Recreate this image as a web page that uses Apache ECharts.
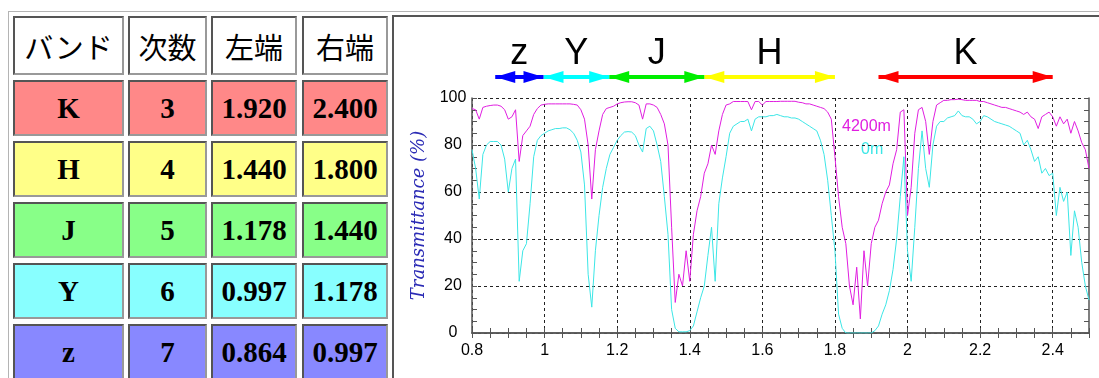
<!DOCTYPE html>
<html>
<head>
<meta charset="utf-8">
<script src="https://cdn.jsdelivr.net/npm/echarts@6/dist/echarts.min.js"></script>
<style>
  body { margin: 0; width: 1099px; height: 378px; overflow: hidden; background: #fff; position: relative; }
  #frame { position: absolute; left: 8px; top: 11px; width: 1100px; height: 380px; border-top: 1px solid #b4b4b4; border-left: 1px solid #b4b4b4; }
  .cell { position: absolute; box-sizing: border-box; border: 2px solid; border-color: #555 #999 #999 #555;
          display: flex; align-items: center; justify-content: center;
          font-family: 'Liberation Serif', serif; font-weight: bold; font-size: 29px; color: #000; }
  .head { font-family: 'Noto Sans CJK JP', sans-serif; font-weight: normal; font-size: 29px; background: #fff; }
  #plotFrame { position: absolute; left: 392px; top: 15px; width: 720px; height: 380px; border-top: 2px solid #555; border-left: 2px solid #555; }
  #chart { position: absolute; left: 395px; top: 18px; width: 704px; height: 360px; }
</style>
</head>
<body>
<div id="frame"></div>
<div id="table"></div>
<div id="plotFrame"></div>
<div id="chart"></div>
<script>
// table data
const headers = ['バンド', '次数', '左端', '右端'];
const bandNames = ['K', 'H', 'J', 'Y', 'z'];
const bandOrders = [3, 4, 5, 6, 7];
const bandLeft = [1.920, 1.440, 1.178, 0.997, 0.864];
const bandRight = [2.400, 1.800, 1.440, 1.178, 0.997];

// transmittance (%) read every 0.01 um from 0.80 to 2.50
const wavelength = [];
for (let i = 0; i <= 170; i++) wavelength.push(+(0.8 + i * 0.01).toFixed(2));
const seriesNames = ['4200m', '0m'];
const trans4200 = [
  95.5, 95, 91, 96, 96.5, 96.8, 97, 97, 96.5, 95,
  91, 92, 95, 73, 84, 86, 88, 93, 95.5, 97,
  97.3, 97.5, 97.5, 97.5, 97.5, 97.5, 97.5, 97.5, 97.3, 97,
  95, 91, 80, 57, 78, 86, 93, 95.5, 96, 96.5,
  97.5, 98, 98.3, 98.4, 98.4, 98, 97, 91, 97.5, 97.5,
  97, 96, 93, 89, 80, 45, 13, 25, 20, 35,
  22, 42, 52, 58, 68, 72, 80, 76, 86, 93,
  97, 97.5, 98.5, 98.5, 98.5, 98.5, 98.5, 95, 98.5, 98.5,
  97, 98.5, 98.5, 98.5, 98.5, 98.6, 98.6, 98.6, 98.6, 98.6,
  98.2, 98, 97.5, 97.5, 97, 96.5, 96, 95.5, 94, 91,
  75, 58, 45, 38, 20, 12, 28, 6, 35, 20,
  38, 45, 48, 55, 60, 63, 72, 78, 94, 95,
  50, 62, 85, 95, 96, 90, 76, 90, 97, 98,
  99, 99, 99.3, 99.3, 99.5, 99.3, 99, 99, 99, 99,
  98.5, 98.5, 98, 97.5, 97, 96.5, 96, 96, 95.5, 95,
  94.5, 94, 93, 94, 92, 91, 87, 92, 93, 94,
  92, 88, 92, 89, 91, 85, 90, 86, 81, 78,
  70
];
const trans0 = [
  78, 70, 57, 76, 80, 81.5, 81.5, 81.5, 80, 74,
  60, 70, 74, 22, 35, 38, 55, 75, 82, 84,
  85, 86, 86.5, 87, 87, 87.3, 87.3, 86.5, 85, 82,
  77, 63, 25, 11, 35, 50, 62, 70, 76, 79,
  82, 84, 85.5, 85.7, 85.5, 84, 80, 77, 87, 88,
  86, 80, 73, 58, 42, 10, 2, 0.5, 0.5, 0.5,
  1, 3, 9, 15, 20, 33, 45, 22, 55, 66,
  75, 85, 88, 89, 90, 90, 91, 86, 91, 92,
  92, 92, 92.5, 92.5, 93, 92.5, 92, 92, 91.5, 91.5,
  91, 90, 89, 88, 87, 86, 82, 76, 65, 50,
  35, 8, 2, 0, 0, 0, 0, 0, 0, 0,
  0, 1, 3, 8, 12, 18, 27, 40, 58, 75,
  35, 22, 45, 70, 86, 70, 62, 80, 88, 90,
  90, 91.5, 92, 92.5, 94.5, 92.5, 92, 92, 91, 89,
  90, 92.5, 92, 91, 90, 89.5, 89, 88.5, 88, 87,
  86, 85, 80, 82, 78, 73, 75, 68, 70, 67,
  68, 50, 62, 56, 60, 33, 52, 45, 30, 20,
  14
];

// styles
const rowColors = ['#ff8888', '#ffff88', '#88ff88', '#88ffff', '#8888ff'];
const arrowColors = ['#ff0000', '#ffff00', '#00ee00', '#00ffff', '#0000ff'];
const lineColors = ['#e01ee0', '#3ce6e6'];

// table
const colX = [13, 128, 211, 302], colW = [111, 79, 86, 86];
const rowY = [16, 80, 141, 202, 263, 324], rowH = [59, 56, 56, 56, 56, 56];
const table = document.getElementById('table');
function addCell(r, c, text, cls, bg) {
  const d = document.createElement('div');
  d.className = cls;
  d.style.left = colX[c] + 'px';
  d.style.top = rowY[r] + 'px';
  d.style.width = colW[c] + 'px';
  d.style.height = rowH[r] + 'px';
  if (bg) d.style.background = bg;
  d.textContent = text;
  table.appendChild(d);
}
headers.forEach((h, c) => addCell(0, c, h, 'cell head'));
bandNames.forEach((n, i) => {
  const row = [n, String(bandOrders[i]), bandLeft[i].toFixed(3), bandRight[i].toFixed(3)];
  row.forEach((t, c) => addCell(i + 1, c, t, 'cell', rowColors[i]));
});

// chart
const chart = echarts.init(document.getElementById('chart'));
const near = (v, step) => Math.abs(v / step - Math.round(v / step)) < 1e-6;
const gridColors = ['#222', 'rgba(0,0,0,0)', 'rgba(0,0,0,0)', 'rgba(0,0,0,0)'];
const frameLine = { lineStyle: { color: '#555', width: 1.5 } };
const tickStyle = { inside: true, length: 5, lineStyle: { color: '#555' } };

const option = {
  animation: false,
  grid: [
    { left: 77, right: 10, top: 80, height: 235 },
    { left: 77, right: 10, top: 39, height: 40 }
  ],
  xAxis: [
    {
      gridIndex: 0, type: 'value', min: 0.8, max: 2.5, interval: 0.05, position: 'bottom',
      axisLine: frameLine, axisTick: tickStyle,
      axisLabel: {
        margin: 10, fontSize: 16, color: '#000', fontFamily: 'Liberation Sans',
        formatter: v => near(v, 0.2) ? String(+v.toFixed(2)) : ''
      },
      splitLine: { show: true, lineStyle: { type: [3, 3], width: 1, color: gridColors } }
    },
    {
      gridIndex: 0, type: 'value', min: 0.8, max: 2.5, interval: 0.05, position: 'top',
      axisLine: frameLine, axisTick: tickStyle, axisLabel: { show: false }, splitLine: { show: false }
    },
    { gridIndex: 1, type: 'value', min: 0.8, max: 2.5, show: false }
  ],
  yAxis: [
    {
      gridIndex: 0, type: 'value', min: 0, max: 100, interval: 5, position: 'left',
      name: 'Transmittance (%)', nameLocation: 'middle', nameGap: 44,
      nameTextStyle: { fontFamily: 'DejaVu Serif', fontStyle: 'italic', fontSize: 18, color: '#2b2bb5' },
      axisLine: frameLine, axisTick: tickStyle,
      axisLabel: {
        margin: 19, align: 'center', fontSize: 16, color: '#000', fontFamily: 'Liberation Sans',
        formatter: v => near(v, 20) ? String(v) : ''
      },
      splitLine: { show: true, lineStyle: { type: [3, 3], width: 1, color: gridColors } }
    },
    {
      gridIndex: 0, type: 'value', min: 0, max: 100, interval: 5, position: 'right',
      axisLine: frameLine, axisTick: tickStyle, axisLabel: { show: false }, splitLine: { show: false }
    },
    { gridIndex: 1, type: 'value', min: 0, max: 1, show: false }
  ],
  series: [
    {
      name: seriesNames[0], type: 'line', xAxisIndex: 0, yAxisIndex: 0,
      data: wavelength.map((w, i) => [w, trans4200[i]]),
      showSymbol: false, color: lineColors[0], lineStyle: { width: 1 }, z: 3
    },
    {
      name: seriesNames[1], type: 'line', xAxisIndex: 0, yAxisIndex: 0,
      data: wavelength.map((w, i) => [w, trans0[i]]),
      showSymbol: false, color: lineColors[1], lineStyle: { width: 1 }, z: 4
    },
    {
      type: 'line', xAxisIndex: 2, yAxisIndex: 2, data: [],
      markLine: {
        silent: true,
        symbol: ['triangle', 'triangle'],
        symbolSize: [12, 20],
        symbolOffset: [[0, 10], [0, 10]],
        label: {
          show: true, position: 'middle', formatter: '{b}', distance: 5,
          fontSize: 36, color: '#000', fontFamily: 'Liberation Sans'
        },
        data: bandNames.map((n, i) => [
          { name: n, coord: [bandLeft[i], 0.5],
            lineStyle: { color: arrowColors[i], width: 4, type: 'solid' },
            itemStyle: { color: arrowColors[i] } },
          { coord: [bandRight[i], 0.5] }
        ])
      }
    }
  ],
  graphic: [
    { type: 'text', left: 447, top: 101, style: { text: seriesNames[0], fill: lineColors[0], font: '16px "Liberation Sans"' } },
    { type: 'text', left: 466, top: 124, style: { text: seriesNames[1], fill: lineColors[1], font: '16px "Liberation Sans"' } }
  ]
};
chart.setOption(option);
</script>
</body>
</html>
